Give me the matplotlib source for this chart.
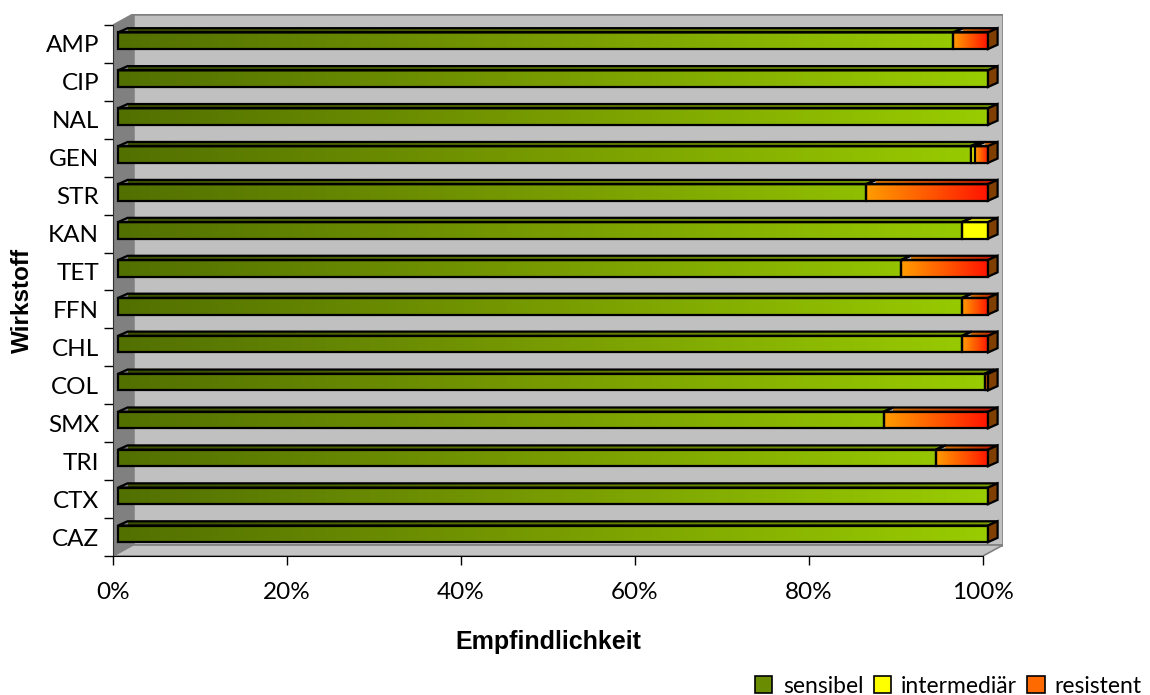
import numpy as np
import matplotlib
matplotlib.use("Agg")
import matplotlib.pyplot as plt
from matplotlib.patches import Polygon, Patch
from matplotlib.colors import LinearSegmentedColormap

# ---------------- data ----------------
categories = ["AMP", "CIP", "NAL", "GEN", "STR", "KAN", "TET",
              "FFN", "CHL", "COL", "SMX", "TRI", "CTX", "CAZ"]
sensibel    = [96, 100, 100, 98.0, 86, 97, 90, 97, 97, 99.6, 88, 94, 100, 100]
intermediar = [0, 0, 0, 0.5, 0, 3, 0, 0, 0, 0, 0, 0, 0, 0]
resistent   = [4, 0, 0, 1.5, 14, 0, 10, 3, 3, 0.4, 12, 6, 0, 0]
series_names = ["sensibel", "intermediär", "resistent"]
xticks = [0, 20, 40, 60, 80, 100]
xtick_labels = ["0%", "20%", "40%", "60%", "80%", "100%"]

# ---------------- figure ----------------
W, H = 1150, 695
fig = plt.figure(figsize=(W / 100, H / 100), dpi=100)
fig.patch.set_facecolor("white")

ax_l, ax_r, ax_b, ax_t = 113, 1003, 556, 14  # pixel positions
ax = fig.add_axes([ax_l / W, (H - ax_b) / H, (ax_r - ax_l) / W, (ax_b - ax_t) / H])
n = len(categories)
px_x = 870 / 100.0
px_y = (556 - 24) / n
DX, DY = 20 / px_x, 11 / px_y
ax.set_xlim(0, 100 + DX)
ax.set_ylim(0, n + DY)
ax.set_facecolor("none")

gray_wall = "#c0c0c0"
left_wall = "#808080"
edge_gray = "#808080"
ax.add_patch(Polygon([(DX, DY), (100 + DX, DY), (100 + DX, n + DY), (DX, n + DY)],
                     closed=True, facecolor=gray_wall, edgecolor=edge_gray, lw=1.8, zorder=0))
ax.add_patch(Polygon([(0, 0), (DX, DY), (DX, n + DY), (0, n)],
                     closed=True, facecolor=left_wall, edgecolor=edge_gray, lw=1.0, zorder=0.5))
ax.add_patch(Polygon([(0, 0), (100, 0), (100 + DX, DY), (DX, DY)],
                     closed=True, facecolor="#c4c4c4", edgecolor=edge_gray, lw=1.2, zorder=0.6))

fx, fy = 5 / px_x, 3.2 / px_y
bx, by = 9.6 / px_x, 4.3 / px_y
hh = 8.3 / px_y
LW = 1.6

green_cm = LinearSegmentedColormap.from_list("g", ["#527000", "#789c00", "#99cc00"])
green_top_cm = LinearSegmentedColormap.from_list("gt", ["#3a5000", "#5e7a00", "#7a9e00"])
red_cm = LinearSegmentedColormap.from_list("r", ["#ff9c00", "#ff5a00", "#ff1400"])
red_top_cm = LinearSegmentedColormap.from_list("rt", ["#cc7000", "#c84000", "#c01000"])

grad = np.linspace(0, 1, 256).reshape(1, -1)


def grad_fill(patch, x0, x1, y0, y1, cmap, z):
    ax.add_patch(patch)
    im = ax.imshow(grad, cmap=cmap, extent=(x0, x1, y0, y1), aspect="auto",
                   interpolation="bilinear", zorder=z, origin="lower")
    im.set_clip_path(patch)
    ax.add_patch(Polygon(patch.get_xy(), closed=True, facecolor="none",
                         edgecolor="black", lw=LW, zorder=z + 0.01))


for i, cat in enumerate(categories):
    yc = n - i - 0.5
    y0 = yc + fy - hh
    y1 = yc + fy + hh
    z = 2 + i * 0.1
    segs = [
        (0, sensibel[i], "g"),
        (sensibel[i], sensibel[i] + intermediar[i], "y"),
        (sensibel[i] + intermediar[i], sensibel[i] + intermediar[i] + resistent[i], "r"),
    ]
    for a, b, kind in segs:
        if b - a <= 0:
            continue
        xa, xb = a + fx, b + fx
        front = Polygon([(xa, y0), (xb, y0), (xb, y1), (xa, y1)], closed=True,
                        facecolor="none", edgecolor="none")
        top = Polygon([(xa, y1), (xb, y1), (xb + bx, y1 + by), (xa + bx, y1 + by)],
                      closed=True, facecolor="none", edgecolor="none")
        if kind == "g":
            grad_fill(front, fx, 100 + fx, y0, y1, green_cm, z)
            grad_fill(top, fx + bx, 100 + fx + bx, y1, y1 + by, green_top_cm, z)
        elif kind == "r":
            grad_fill(front, xa, xb, y0, y1, red_cm, z)
            grad_fill(top, xa + bx, xb + bx, y1, y1 + by, red_top_cm, z)
        else:
            for p, c in ((front, "#ffff00"), (top, "#c8c800")):
                p.set_facecolor(c)
                p.set_edgecolor("black")
                p.set_linewidth(LW)
                p.set_zorder(z)
                ax.add_patch(p)
    xe = 100 + fx
    ax.add_patch(Polygon([(xe, y0), (xe + bx, y0 + by), (xe + bx, y1 + by), (xe, y1)],
                         closed=True, facecolor="#7f3f00", edgecolor="black",
                         lw=LW, zorder=z + 0.02))

for s in ["top", "right"]:
    ax.spines[s].set_visible(False)
ax.spines["left"].set_bounds(0, n)
ax.spines["bottom"].set_bounds(0, 100)
ax.spines["left"].set_color("#303030")
ax.spines["bottom"].set_color("black")
ax.spines["left"].set_zorder(5)
ax.spines["bottom"].set_zorder(5)

ax.set_yticks(np.arange(0, n + 1))
ax.set_yticklabels([])
ax.set_yticks(np.arange(n) + 0.5, minor=True)
ax.set_yticklabels(categories[::-1], minor=True)
ax.tick_params(axis="y", which="major", length=6.5, width=1, color="black", direction="out")
ax.tick_params(axis="y", which="minor", length=0, pad=10)

ax.set_xticks(xticks)
ax.set_xticklabels(xtick_labels)
ax.tick_params(axis="x", which="major", length=6.5, width=1, color="black",
               direction="out", pad=12)

tick_font = "Lato"
for lab in ax.get_yticklabels(minor=True) + ax.get_xticklabels():
    lab.set_fontfamily(tick_font)
    lab.set_fontsize(17.5)

fig.text(548 / W, 1 - 642 / H, "Empfindlichkeit", ha="center", va="center",
         fontsize=18, fontweight="bold", family="Liberation Sans")
fig.text(22 / W, 1 - 300 / H, "Wirkstoff", ha="center", va="center", rotation=90,
         fontsize=17.5, fontweight="bold", family="Liberation Sans")

handles = [Patch(facecolor="#6a8c00", edgecolor="black", lw=1.2),
           Patch(facecolor="#ffff00", edgecolor="black", lw=1.2),
           Patch(facecolor="#ff6a00", edgecolor="black", lw=1.2)]
leg = fig.legend(handles, series_names, loc="lower right", bbox_to_anchor=(1.0, -0.014),
                 ncol=3, frameon=False, handlelength=0.75, handleheight=0.75,
                 handletextpad=0.45, columnspacing=0.45, borderpad=0.15,
                 borderaxespad=0.2,
                 prop={"family": tick_font, "size": 16.5})

fig.savefig("out.png", dpi=100)
